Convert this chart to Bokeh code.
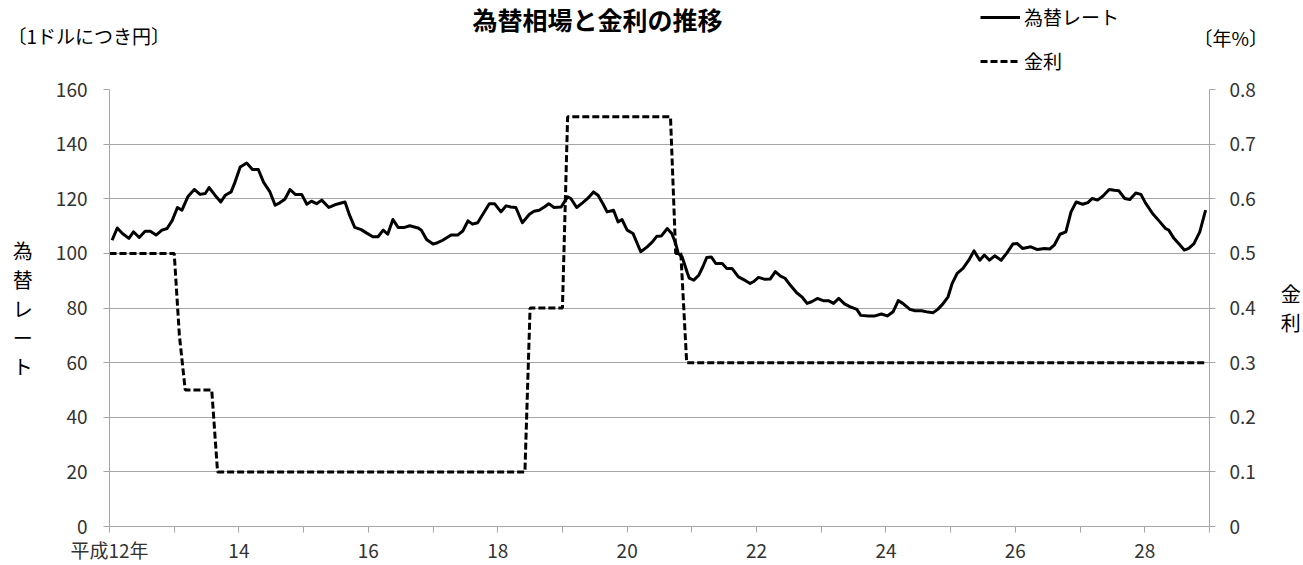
import numpy as np
from bokeh.plotting import figure
from bokeh.layouts import column
from bokeh.models import Range1d, LinearAxis, FixedTicker, Label, Legend, LegendItem
from bokeh.embed import file_html
from bokeh.resources import INLINE

# ---------------- data ----------------
# exchange rate (yen per dollar), x = Heisei year (fractional)
fx_year = [12.04, 12.12, 12.20, 12.30, 12.37, 12.46, 12.55, 12.63, 12.72, 12.81, 12.89, 12.97,
           13.05, 13.12, 13.21, 13.31, 13.40, 13.48, 13.54, 13.63, 13.72, 13.79, 13.88, 13.94,
           14.02, 14.12, 14.21, 14.30, 14.38, 14.48, 14.56, 14.63, 14.71, 14.79, 14.87, 14.97,
           15.05, 15.12, 15.20, 15.28, 15.39, 15.51, 15.64, 15.71, 15.79, 15.89, 15.97,
           16.07, 16.15, 16.23, 16.30, 16.38, 16.46, 16.56, 16.64, 16.77, 16.82, 16.90,
           17.00, 17.07, 17.15, 17.28, 17.38, 17.46, 17.54, 17.61, 17.69, 17.77, 17.87, 17.95,
           18.05, 18.13, 18.20, 18.28, 18.38, 18.49, 18.56, 18.64, 18.72, 18.79, 18.87, 18.98,
           19.08, 19.13, 19.22, 19.31, 19.39, 19.48, 19.55, 19.63, 19.69, 19.79, 19.86, 19.92,
           20.00, 20.09, 20.21, 20.31, 20.39, 20.46, 20.53, 20.62, 20.69, 20.75, 20.79, 20.85,
           20.93, 20.96, 21.03, 21.11, 21.17, 21.23, 21.30, 21.37, 21.47, 21.54, 21.62, 21.72,
           21.83, 21.90, 21.95, 22.03, 22.13, 22.21, 22.29, 22.37, 22.44, 22.52, 22.62, 22.70,
           22.78, 22.85, 22.94, 23.03, 23.11, 23.19, 23.27, 23.36, 23.44, 23.55, 23.61, 23.73,
           23.83, 23.93, 24.02, 24.11, 24.19, 24.26, 24.37, 24.45, 24.55, 24.65, 24.73, 24.80,
           24.88, 24.96, 25.02, 25.10, 25.19, 25.28, 25.36, 25.45, 25.52, 25.60, 25.68, 25.78,
           25.87, 25.96, 26.03, 26.11, 26.24, 26.34, 26.45, 26.53, 26.60, 26.69, 26.78, 26.86,
           26.94, 27.04, 27.12, 27.19, 27.27, 27.35, 27.45, 27.53, 27.60, 27.69, 27.77, 27.86,
           27.94, 28.01, 28.12, 28.22, 28.32, 28.37, 28.45, 28.53, 28.61, 28.68, 28.76, 28.85,
           28.94]
fx_rate = [104.8, 109.3, 107.3, 105.5, 107.9, 105.8, 108.1, 108.1, 106.7, 108.5, 109.1, 112.1,
           116.8, 115.8, 120.7, 123.4, 121.6, 121.9, 124.1, 121.3, 118.8, 121.3, 122.5, 126.1,
           131.6, 133.1, 130.7, 130.7, 126.1, 122.5, 117.6, 118.5, 119.8, 123.4, 121.6, 121.6,
           118.0, 119.1, 118.2, 119.5, 116.8, 118.0, 118.8, 114.0, 109.5, 108.7, 107.5,
           106.1, 106.1, 108.5, 107.0, 112.4, 109.5, 109.5, 110.1, 109.3, 108.5, 105.1,
           103.4, 103.9, 104.8, 106.7, 106.7, 108.2, 111.9, 110.7, 111.2, 114.3, 118.2, 118.2,
           115.2, 117.4, 117.0, 116.8, 111.2, 114.3, 115.4, 115.8, 117.0, 118.2, 116.8, 117.0,
           120.7, 120.1, 116.8, 118.5, 120.1, 122.5, 121.3, 118.0, 115.2, 115.8, 111.5, 112.4,
           108.5, 107.3, 100.6, 102.4, 104.2, 106.3, 106.4, 109.1, 107.3, 103.6, 100.0, 98.7,
           92.9, 90.9, 90.2, 92.1, 95.1, 98.5, 98.7, 96.3, 96.3, 94.5, 94.5, 91.4,
           90.0, 89.0, 89.6, 91.2, 90.5, 90.6, 93.3, 91.7, 90.9, 88.4, 85.6, 84.1,
           81.7, 82.3, 83.5, 82.7, 82.7, 81.7, 83.5, 81.5, 80.5, 79.5, 77.3, 77.1,
           77.1, 77.8, 77.1, 78.6, 82.7, 81.7, 79.5, 79.0, 79.0, 78.5, 78.3, 79.5,
           81.5, 84.1, 88.8, 92.7, 94.5, 97.5, 100.9, 97.5, 99.4, 97.5, 99.1, 97.5,
           100.2, 103.4, 103.6, 101.8, 102.4, 101.4, 101.8, 101.6, 103.0, 107.0, 107.9, 115.2,
           118.8, 118.0, 118.6, 120.1, 119.5, 120.9, 123.4, 123.1, 122.9, 120.1, 119.7, 122.1,
           121.6, 118.5, 114.6, 111.9, 109.1, 108.5, 105.5, 103.4, 101.2, 101.8, 103.6, 107.9,
           115.8]

# interest rate (% per year)
rate_year = [12.0, 13.0, 13.08, 13.17, 13.58, 13.67, 18.42, 18.5, 19.0, 19.08,
             20.67, 20.75, 20.83, 20.92, 28.94]
rate_pct = [0.5, 0.5, 0.35, 0.25, 0.25, 0.1, 0.1, 0.4, 0.4, 0.75,
            0.75, 0.5, 0.5, 0.3, 0.3]

x_ticks = [12, 13, 14, 15, 16, 17, 18, 19, 20, 21, 22, 23, 24, 25, 26, 27, 28, 29]
x_tick_labels = ["平成12年", "", "14", "", "16", "", "18", "", "20", "", "22", "", "24", "",
                 "26", "", "28", ""]
y_left_ticks = [0, 20, 40, 60, 80, 100, 120, 140, 160]
y_right_ticks = [0, 0.1, 0.2, 0.3, 0.4, 0.5, 0.6, 0.7, 0.8]
y_right_labels = ["0", "0.1", "0.2", "0.3", "0.4", "0.5", "0.6", "0.7", "0.8"]

title_text = "為替相場と金利の推移"
left_unit = "〔1ドルにつき円〕"
right_unit = "〔年%〕"
left_axis_name = "為替レート"
right_axis_name = "金利"

# ---------------- layout constants (pixels) ----------------
W = 1303
HEAD_H = 74                      # header strip: title, units, legend
MAIN_H = 565 - HEAD_H
LEFT, RIGHT, TOP, BOTTOM = 109, 91, 15, 38   # plot box: x 109..1212, y 89..527 on the page

FONT = "Noto Sans CJK JP"
GRID = "#a6a6a6"
TICK_COLOR = "#333333"

# ---------------- main chart ----------------
p = figure(width=W, height=MAIN_H, output_backend="svg", toolbar_location=None,
           x_range=Range1d(12, 29), y_range=Range1d(0, 160),
           min_border_left=LEFT, min_border_right=RIGHT, min_border_top=TOP,
           min_border_bottom=BOTTOM)
p.outline_line_color = None
p.background_fill_color = "white"
p.border_fill_color = "white"
p.xgrid.grid_line_color = None
p.ygrid.grid_line_color = GRID
p.ygrid.grid_line_width = 1
p.ygrid.ticker = FixedTicker(ticks=y_left_ticks)

p.extra_y_ranges = {"rate": Range1d(0, 0.8)}


def style_axis(ax):
    ax.axis_line_color = GRID
    ax.axis_line_width = 1
    ax.major_tick_line_color = GRID
    ax.major_tick_out = 6
    ax.major_tick_in = 0
    ax.minor_tick_line_color = None
    ax.major_label_text_font = FONT
    ax.major_label_text_font_size = "19px"
    ax.major_label_text_color = TICK_COLOR
    ax.axis_label_text_font = FONT
    ax.axis_label_text_font_size = "20px"
    ax.axis_label_text_font_style = "normal"
    ax.axis_label_text_color = "#000000"


xax = p.below[0]
style_axis(xax)
xax.ticker = FixedTicker(ticks=x_ticks)
xax.major_label_overrides = {t: lab for t, lab in zip(x_ticks, x_tick_labels)}
xax.major_label_standoff = 3

yax = p.left[0]
style_axis(yax)
yax.ticker = FixedTicker(ticks=y_left_ticks)
yax.major_label_standoff = 16
yax.axis_label = "\n".join(list(left_axis_name))
yax.axis_label_orientation = "horizontal"
yax.axis_label_standoff = 20
yax.axis_label_text_line_height = 1.0

rax = LinearAxis(y_range_name="rate")
style_axis(rax)
rax.ticker = FixedTicker(ticks=y_right_ticks)
rax.major_label_overrides = {t: lab for t, lab in zip(y_right_ticks, y_right_labels)}
rax.major_label_standoff = 14
rax.axis_label = "\n".join(list(right_axis_name))
rax.axis_label_orientation = "horizontal"
rax.axis_label_standoff = 22
rax.axis_label_text_line_height = 1.0
p.add_layout(rax, "right")

r_fx = p.line(fx_year, fx_rate, line_color="black", line_width=3, line_join="round")
r_rate = p.line(rate_year, rate_pct, y_range_name="rate", line_color="black",
                line_width=3, line_dash="7 3")

# ---------------- header strip (title, unit captions, legend) ----------------
h = figure(width=W, height=HEAD_H, output_backend="svg", toolbar_location=None,
           x_range=Range1d(0, W), y_range=Range1d(0, HEAD_H),
           x_axis_location=None, y_axis_location=None,
           min_border=0, min_border_left=0, min_border_right=0,
           min_border_top=0, min_border_bottom=0)
if "frame_align" in h.properties():
    h.frame_align = False          # keep the strip's frame full width (no border syncing)
h.outline_line_color = None
h.xgrid.visible = False
h.ygrid.visible = False
h.background_fill_color = "white"
h.border_fill_color = "white"

# legend samples share the chart's line styles (renderers hold no visible point)
k_fx = h.line(x=np.array([0.0]), y=np.array([np.nan]), line_color="black", line_width=3)
k_rate = h.line(x=np.array([0.0]), y=np.array([np.nan]), line_color="black", line_width=3,
                line_dash="7 3")
legend = Legend(items=[LegendItem(label=left_axis_name, renderers=[k_fx]),
                       LegendItem(label=right_axis_name, renderers=[k_rate])],
                location=(980, 0), orientation="vertical",
                glyph_width=40, glyph_height=24, label_height=24, label_standoff=4,
                spacing=17, padding=0, margin=0,
                label_text_font=FONT, label_text_font_size="19px", label_text_color="black",
                background_fill_alpha=0, border_line_color=None)
h.add_layout(legend, "center")

# screen px: x from the left edge, y measured up from the strip's bottom
h.add_layout(Label(x=597, y=HEAD_H - 18, x_units="screen", y_units="screen",
                   text=title_text, text_align="center", text_baseline="middle",
                   text_font=FONT, text_font_size="25px", text_font_style="bold",
                   text_color="black"))
h.add_layout(Label(x=7, y=HEAD_H - 35, x_units="screen", y_units="screen",
                   text=left_unit, text_align="left", text_baseline="middle",
                   text_font=FONT, text_font_size="19px", text_color="black"))
h.add_layout(Label(x=1193, y=HEAD_H - 37, x_units="screen", y_units="screen",
                   text=right_unit, text_align="left", text_baseline="middle",
                   text_font=FONT, text_font_size="19px", text_color="black"))

layout = column(h, p, spacing=0)
open("out.html", "w").write(file_html(layout, INLINE))
